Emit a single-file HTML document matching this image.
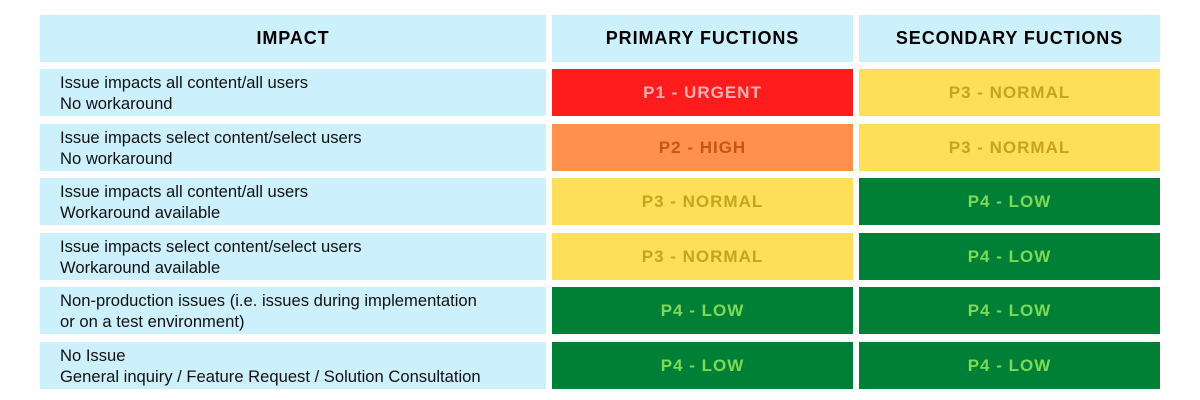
<!DOCTYPE html>
<html><head><style>
body{margin:0;width:1200px;height:400px;background:#fff;position:relative;overflow:hidden;font-family:"Liberation Sans",sans-serif}
.c{position:absolute;box-sizing:border-box;display:flex;align-items:center;justify-content:center;font-weight:bold;font-size:17px;letter-spacing:1px}
.h{background:#cdf0fd;color:#000;top:15px;height:47px;font-size:18px;letter-spacing:0.9px}
.i{background:#cdf0fd;justify-content:flex-start;padding-left:20px;font-weight:normal;font-size:16.6px;line-height:21px;color:#111;letter-spacing:0}
.r{background:#ff1c1c;color:#fcb0b0}
.o{background:#ff914d;color:#c4561a}
.y{background:#ffde59;color:#c6a51c}
.g{background:#008037;color:#7ed957}
.a{left:40px;width:506px}.b{left:552px;width:301px}.d{left:859px;width:301px}
</style></head><body>
<div class="c h a">IMPACT</div>
<div class="c h b">PRIMARY FUCTIONS</div>
<div class="c h d">SECONDARY FUCTIONS</div>

<div class="c i a" style="top:69px;height:47px">Issue impacts all content/all users<br>No workaround</div>
<div class="c r b" style="top:69px;height:47px">P1 - URGENT</div>
<div class="c y d" style="top:69px;height:47px">P3 - NORMAL</div>

<div class="c i a" style="top:124px;height:47px">Issue impacts select content/select users<br>No workaround</div>
<div class="c o b" style="top:124px;height:47px">P2 - HIGH</div>
<div class="c y d" style="top:124px;height:47px">P3 - NORMAL</div>

<div class="c i a" style="top:178px;height:47px">Issue impacts all content/all users<br>Workaround available</div>
<div class="c y b" style="top:178px;height:47px">P3 - NORMAL</div>
<div class="c g d" style="top:178px;height:47px">P4 - LOW</div>

<div class="c i a" style="top:233px;height:47px">Issue impacts select content/select users<br>Workaround available</div>
<div class="c y b" style="top:233px;height:47px">P3 - NORMAL</div>
<div class="c g d" style="top:233px;height:47px">P4 - LOW</div>

<div class="c i a" style="top:287px;height:47px">Non-production issues (i.e. issues during implementation<br>or on a test environment)</div>
<div class="c g b" style="top:287px;height:47px">P4 - LOW</div>
<div class="c g d" style="top:287px;height:47px">P4 - LOW</div>

<div class="c i a" style="top:342px;height:47px">No Issue<br>General inquiry / Feature Request / Solution Consultation</div>
<div class="c g b" style="top:342px;height:47px">P4 - LOW</div>
<div class="c g d" style="top:342px;height:47px">P4 - LOW</div>
</body></html>
